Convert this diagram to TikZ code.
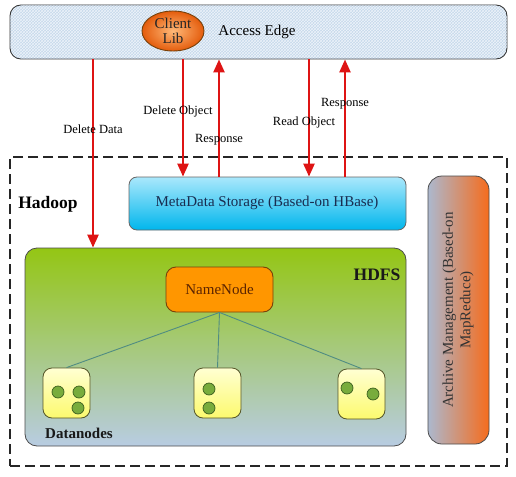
\documentclass[tikz,border=0pt]{standalone}
\usepackage{fontspec}
\setmainfont{Liberation Serif}
\usetikzlibrary{arrows.meta,patterns,shapes.geometric}
\definecolor{edgebg}{RGB}{198,216,234}
\definecolor{hatch}{RGB}{236,243,250}
\definecolor{arrred}{RGB}{222,20,20}
\definecolor{metatop}{RGB}{170,232,252}
\definecolor{metabot}{RGB}{0,182,236}
\definecolor{metatxt}{RGB}{25,45,80}
\definecolor{hdfstop}{RGB}{148,198,20}
\definecolor{hdfsmid}{RGB}{168,204,95}
\definecolor{hdfsbot}{RGB}{184,204,226}
\definecolor{nnfill}{RGB}{255,150,0}
\definecolor{nnborder}{RGB}{120,65,10}
\definecolor{nntxt}{RGB}{90,35,0}
\definecolor{dntop}{RGB}{255,255,210}
\definecolor{dnbot}{RGB}{252,250,110}
\definecolor{dnborder}{RGB}{85,85,40}
\definecolor{dotfill}{RGB}{120,172,60}
\definecolor{dotborder}{RGB}{60,95,30}
\definecolor{linkcol}{RGB}{80,140,130}
\definecolor{archleft}{RGB}{172,184,206}
\definecolor{archright}{RGB}{246,108,28}
\definecolor{cliin}{RGB}{255,185,120}
\definecolor{cliout}{RGB}{228,92,12}
\tikzset{
  arr/.style={draw=arrred, line width=2.4pt, -{Triangle[width=11pt,length=13pt]}},
  lbl/.style={font=\fontsize{12.5}{14}\selectfont, inner sep=0pt},
  boxlbl/.style={font=\fontsize{15}{17}\selectfont, inner sep=0pt},
  dnbox/.style={draw=dnborder, line width=0.8pt, rounded corners=9pt, top color=dntop, bottom color=dnbot, minimum width=47pt, minimum height=50pt, inner sep=0pt},
  dot/.style={circle, draw=dotborder, line width=0.7pt, fill=dotfill, minimum size=12pt, inner sep=0pt},
  link/.style={draw=linkcol, line width=0.9pt}
}
\begin{document}
\begin{tikzpicture}[x=1pt,y=-1pt]
\useasboundingbox[fill=white] (0,0) rectangle (516,476);
% Access edge
\node[draw=black!80, line width=0.9pt, rounded corners=11pt, fill=edgebg, minimum width=497pt, minimum height=54pt, inner sep=0pt] (edge) at (258.5,32) {};
\path[pattern=crosshatch, pattern color=hatch, rounded corners=11pt] (10.5,5.5) rectangle (506.5,58.5);
\node[boxlbl] (edgetxt) at (257,32) {Access Edge};
\node[ellipse, draw=nnborder, line width=0.9pt, inner color=cliin, outer color=cliout, minimum width=62pt, minimum height=40pt, inner sep=0pt, align=center, font=\fontsize{15}{15.5}\selectfont, text=black!85] (client) at (173,31) {Client\\Lib};
% Hadoop container
\node[draw=black!85, line width=1.4pt, dash pattern=on 10pt off 5pt, minimum width=497pt, minimum height=309pt, inner sep=0pt] (hadoop) at (258.5,311.5) {};
\node[font=\fontsize{17.5}{19}\selectfont\bfseries, inner sep=0pt] (hadooptxt) at (48,204) {Hadoop};
% MetaData
\node[draw=black!60, line width=0.8pt, rounded corners=8pt, top color=metatop, bottom color=metabot, minimum width=277pt, minimum height=53pt, inner sep=0pt] (meta) at (267.5,203.5) {};
\node[boxlbl, text=metatxt] (metatxtn) at (267,203) {MetaData Storage (Based-on HBase)};
% HDFS
\node[draw=black!70, line width=0.8pt, rounded corners=12pt, shading=axis, top color=hdfstop, middle color=hdfsmid, bottom color=hdfsbot, minimum width=381pt, minimum height=198pt, inner sep=0pt] (hdfs) at (215.5,347) {};
\node[font=\fontsize{17.5}{19}\selectfont\bfseries, inner sep=0pt, text=black!90] (hdfstxt) at (377,275) {HDFS};
% NameNode
\node[draw=nnborder, line width=0.9pt, rounded corners=10pt, fill=nnfill, minimum width=107pt, minimum height=45pt, inner sep=0pt, font=\fontsize{15}{17}\selectfont, text=nntxt] (nn) at (219.5,289.5) {NameNode};
% Datanodes
\node[dnbox] (dn1) at (66.5,393) {};
\node[dnbox] (dn2) at (217.5,393) {};
\node[dnbox] (dn3) at (361.5,394) {};
\node[dot] (d11) at (58,392) {};
\node[dot] (d12) at (79,392) {};
\node[dot] (d13) at (78,408) {};
\node[dot] (d21) at (209,389) {};
\node[dot] (d22) at (209,408) {};
\node[dot] (d31) at (347,388) {};
\node[dot] (d32) at (373,394) {};
\draw[link] (nn.south) -- (dn1.north);
\draw[link] (nn.south) -- (dn2.north);
\draw[link] (nn.south) -- (dn3.north);
\node[font=\fontsize{15}{17}\selectfont\bfseries, inner sep=0pt, text=black!90] (dntxt) at (79,433) {Datanodes};
% Archive
\node[draw=black!70, line width=0.8pt, rounded corners=14pt, left color=archleft, right color=archright, minimum width=61pt, minimum height=268pt, inner sep=0pt] (arch) at (458.5,310) {};
\node[rotate=90, align=center, font=\fontsize{15}{17.5}\selectfont, text=black!80, inner sep=0pt] (archtxt) at (458,310) {Archive Management (Based-on\\MapReduce)};
% Arrows
\coordinate (xdd) at (93,0);
\coordinate (xdo) at (183,0);
\coordinate (xr1) at (219,0);
\coordinate (xro) at (309,0);
\coordinate (xr2) at (345,0);
\draw[arr] (edge.south -| xdd) -- (hdfs.north -| xdd);
\draw[arr] (edge.south -| xdo) -- (meta.north -| xdo);
\draw[arr] (meta.north -| xr1) -- (edge.south -| xr1);
\draw[arr] (edge.south -| xro) -- (meta.north -| xro);
\draw[arr] (meta.north -| xr2) -- (edge.south -| xr2);
% Labels
\node[lbl] (l1) at (93,129) {Delete Data};
\node[lbl] (l2) at (178,111) {Delete Object};
\node[lbl] (l3) at (219,140) {Response};
\node[lbl] (l4) at (304,122) {Read Object};
\node[lbl] (l5) at (345,104) {Response};
\end{tikzpicture}
\end{document}
